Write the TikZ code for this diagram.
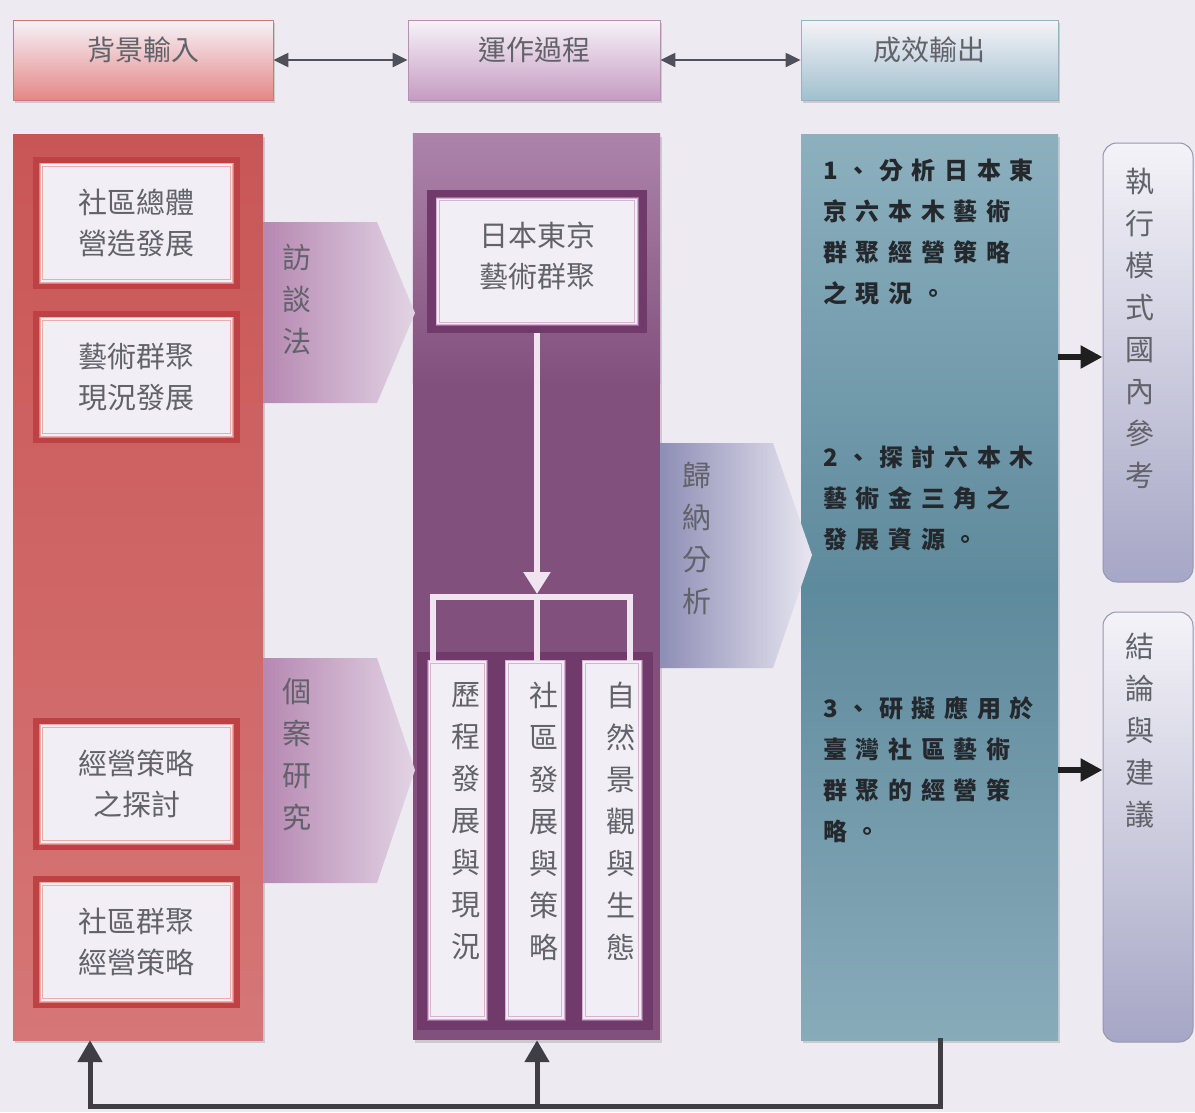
\documentclass[tikz,border=0pt]{standalone}
\usepackage{fontspec}
\setmainfont{Noto Sans CJK TC}
\newfontfamily\tealfont[LetterSpace=36]{Noto Sans CJK TC}
\usetikzlibrary{arrows.meta,calc,shadows}
\definecolor{bgc}{RGB}{237,234,242}
\definecolor{txtgray}{RGB}{98,98,106}
\definecolor{hdrtop}{RGB}{246,243,248}
\definecolor{hAbot}{RGB}{228,135,135}
\definecolor{hAline}{RGB}{205,120,120}
\definecolor{hBbot}{RGB}{198,155,194}
\definecolor{hBline}{RGB}{180,145,178}
\definecolor{hCbot}{RGB}{160,192,206}
\definecolor{hCline}{RGB}{150,178,192}
\definecolor{arrgray}{RGB}{80,80,90}
\definecolor{redtop}{RGB}{201,86,86}
\definecolor{redbot}{RGB}{214,118,118}
\definecolor{redband}{RGB}{190,66,68}
\definecolor{redlight}{RGB}{222,128,128}
\definecolor{pinkline}{RGB}{236,172,172}
\definecolor{boxwhite}{RGB}{241,239,245}
\definecolor{purtop}{RGB}{172,132,170}
\definecolor{purbot}{RGB}{130,80,125}
\definecolor{purband}{RGB}{112,58,107}
\definecolor{purlight}{RGB}{160,106,155}
\definecolor{purline}{RGB}{214,178,211}
\definecolor{wline}{RGB}{240,228,240}
\definecolor{tealtop}{RGB}{140,176,190}
\definecolor{tealmid}{RGB}{94,138,157}
\definecolor{tealbot}{RGB}{136,171,185}
\definecolor{teatxt}{RGB}{36,40,44}
\definecolor{penAl}{RGB}{182,136,178}
\definecolor{penAr}{RGB}{226,212,228}
\definecolor{penCl}{RGB}{142,142,182}
\definecolor{penCr}{RGB}{232,230,240}
\definecolor{rbtop}{RGB}{244,243,248}
\definecolor{rbbot}{RGB}{166,166,198}
\definecolor{rbline}{RGB}{150,150,175}
\definecolor{fbgray}{RGB}{62,62,68}
\begin{document}
\begin{tikzpicture}[x=1pt,y=-1pt,
  hbox/.style={rectangle, minimum height=80pt, inner sep=0pt, line width=0.8pt,
    drop shadow={opacity=0.3,shadow xshift=1.5pt,shadow yshift=-2.5pt}},
  htext/.style={font=\fontsize{28}{30}\selectfont, text=txtgray, inner sep=0pt},
  colbox/.style={rectangle, minimum height=906pt, inner sep=0pt,
    drop shadow={opacity=0.3,shadow xshift=2pt,shadow yshift=-3pt}},
  rband/.style={rectangle, fill=redband, minimum width=207pt, minimum height=132pt, inner sep=0pt},
  rinner/.style={rectangle, fill=boxwhite, preaction={draw=redlight, line width=5pt},
    draw=pinkline, line width=1pt, double=boxwhite, double distance=1.5pt,
    minimum width=190pt, minimum height=116pt, inner sep=0pt,
    font=\fontsize{29}{41}\selectfont, text=txtgray, align=center},
  pinner/.style={rectangle, fill=boxwhite, preaction={draw=purlight, line width=5pt},
    draw=purline, line width=1pt, double=boxwhite, double distance=1.5pt, inner sep=0pt,
    font=\fontsize{29}{41}\selectfont, text=txtgray, align=center},
  vstack/.style={font=\fontsize{29}{42}\selectfont, text=txtgray, align=center, inner sep=0pt},
  tealtxt/.style={font=\tealfont\bfseries\fontsize{24}{41}\selectfont, text=teatxt, align=left, inner sep=0pt, anchor=north west},
  rbox/.style={rectangle, rounded corners=14pt, draw=rbline, line width=1pt,
    top color=rbtop, bottom color=rbbot, minimum width=90pt, inner sep=0pt},
  hdarrow/.style={line width=2.2pt, draw=arrgray,
    {Triangle[length=15pt,width=14pt]}-{Triangle[length=15pt,width=14pt]}},
  blkarrow/.style={line width=6pt, draw=black!88, -{Triangle[length=22pt,width=22pt]}},
  fbline/.style={line width=5pt, draw=fbgray},
  fbarrow/.style={line width=5pt, draw=fbgray, -{Triangle[length=22pt,width=24pt]}},
  wconn/.style={line width=6pt, draw=wline},
]
\useasboundingbox (0,0) rectangle (1195,1112);
\fill[bgc] (0,0) rectangle (1195,1112);

% ---------- header row ----------
\node[hbox, draw=hAline, top color=hdrtop, bottom color=hAbot, minimum width=260pt] (hA) at (143,60) {};
\node[hbox, draw=hBline, top color=hdrtop, bottom color=hBbot, minimum width=252pt] (hB) at (534,60) {};
\node[hbox, draw=hCline, top color=hdrtop, bottom color=hCbot, minimum width=257pt] (hC) at (929.5,60) {};
\node[htext] (hAt) at (143,50) {背景輸入};
\node[htext] (hBt) at (534,50) {運作過程};
\node[htext] (hCt) at (929.5,50) {成效輸出};
\draw[hdarrow] (hA.east) -- (hB.west);
\draw[hdarrow] (hB.east) -- (hC.west);

% ---------- columns ----------
\node[colbox, top color=redtop, bottom color=redbot, minimum width=250pt] (redcol) at (138,587) {};
\node[colbox, fill=purbot, minimum width=247pt] (purcol) at (536.5,587) {};
\shade[top color=purtop, bottom color=purbot] (purcol.north west) rectangle ($(purcol.north east)+(0,250)$);
\node[colbox, top color=tealtop, bottom color=tealbot, middle color=tealmid, minimum width=257pt] (tealcol) at (929.5,587) {};

% ---------- left column boxes ----------
\node[rband] (bandA) at (136.5,223) {};
\node[rinner] (boxA) at (bandA) {社區總體\\營造發展};
\node[rband] (bandB) at (136.5,377) {};
\node[rinner] (boxB) at (bandB) {藝術群聚\\現況發展};
\node[rband] (bandC) at (136.5,784) {};
\node[rinner] (boxC) at (bandC) {經營策略\\之探討};
\node[rband] (bandD) at (136.5,942) {};
\node[rinner] (boxD) at (bandD) {社區群聚\\經營策略};

% ---------- middle column ----------
\node[rectangle, fill=purband, minimum width=220pt, minimum height=143pt, inner sep=0pt] (bandT) at (537,261.5) {};
\node[pinner, minimum width=198pt, minimum height=124pt] (boxT) at (bandT) {};
\node[vstack, font=\fontsize{29}{41}\selectfont] (boxTt) at (537,256) {日本東京\\藝術群聚};

\node[rectangle, fill=purband, minimum width=236pt, minimum height=378pt, inner sep=0pt] (vband) at (535,841) {};
\node[pinner, minimum width=56pt, minimum height=356pt] (v1) at (457.5,840) {};
\node[pinner, minimum width=56pt, minimum height=356pt] (v2) at (535,840) {};
\node[pinner, minimum width=56pt, minimum height=356pt] (v3) at (612,840) {};
\node[vstack] (v1t) at (466,821) {歷\\程\\發\\展\\與\\現\\況};
\node[vstack] (v2t) at (544,821) {社\\區\\發\\展\\與\\策\\略};
\node[vstack] (v3t) at (621,821) {自\\然\\景\\觀\\與\\生\\態};

\coordinate (split) at (537,597);
\coordinate (legL) at (433,597);
\coordinate (legR) at (630,597);
\draw[wconn] (v1.north -| legL) -- (legL) -- (legR) -- (v3.north -| legR);
\draw[wconn] (split) -- (v2.north -| split);
\draw[wconn, -{Triangle[length=22pt,width=26pt]}] (bandT.south -| split) -- ($(split)+(0,-3)$);

% ---------- block arrows ----------
\shade[left color=penAl, right color=penAr] (263,222) -- (377,222) -- (415,313) -- (377,403) -- (263,403) -- cycle;
\node[vstack] (penAt) at (297,299) {訪\\談\\法};
\shade[left color=penAl, right color=penAr] (263,658) -- (377,658) -- (415,770) -- (377,883) -- (263,883) -- cycle;
\node[vstack] (penBt) at (297,755) {個\\案\\研\\究};
\shade[left color=penCl, right color=penCr] (660,443) -- (773,443) -- (812,555) -- (773,668) -- (660,668) -- cycle;
\node[vstack] (penCt) at (697,538) {歸\\納\\分\\析};

% ---------- teal column text ----------
\node[tealtxt] (t1) at (823,159) {1、分析日本東\\京六本木藝術\\群聚經營策略\\之現況。};
\node[tealtxt] (t2) at (823,446) {2、探討六本木\\藝術金三角之\\發展資源。};
\node[tealtxt] (t3) at (823,696) {3、研擬應用於\\臺灣社區藝術\\群聚的經營策\\略。};

% ---------- right boxes ----------
\node[rbox, minimum height=439pt] (rb1) at (1148,362.5) {};
\node[vstack, text=txtgray] (rb1t) at (1140,328) {執\\行\\模\\式\\國\\內\\參\\考};
\node[rbox, minimum height=430pt] (rb2) at (1148,827) {};
\node[vstack, text=txtgray] (rb2t) at (1140,731) {結\\論\\與\\建\\議};
\coordinate (ar1) at (1080,357);
\coordinate (ar2) at (1080,770);
\draw[blkarrow] (tealcol.east |- ar1) -- (rb1.west |- ar1);
\draw[blkarrow] (tealcol.east |- ar2) -- (rb2.west |- ar2);

% ---------- feedback ----------
\coordinate (fbR) at (940,1106);
\coordinate (fbM) at (537,1106);
\coordinate (fbL) at (90,1106);
\draw[fbline, line cap=rect] (tealcol.south -| fbR) -- (fbR) -- (fbL);
\draw[fbarrow] (fbL) -- (redcol.south -| fbL);
\draw[fbarrow] (fbM) -- (purcol.south -| fbM);
\end{tikzpicture}
\end{document}
